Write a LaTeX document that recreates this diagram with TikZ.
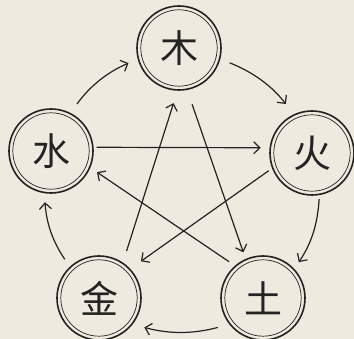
\documentclass[tikz,border=0pt]{standalone}
\usepackage{fontspec}
\newfontfamily\cjk{Noto Sans CJK SC}
\usetikzlibrary{arrows.meta,positioning,calc}
\definecolor{parchment}{RGB}{239,234,223}
\definecolor{ink}{RGB}{35,35,35}

\begin{document}
\begin{tikzpicture}[x=1pt,y=-1pt,>={Straight Barb[length=6pt,width=12pt]},
  elem/.style={circle,draw=ink,line width=1.6pt,minimum size=84pt,inner sep=0pt,
    text=ink,font=\cjk\fontsize{38}{38}\selectfont,
    path picture={\draw[ink,line width=0.7pt] (path picture bounding box.center) circle[radius=38.2pt];}},
  gen/.style={->,draw=ink,line width=1.2pt,bend left=15},
  ctrl/.style={->,draw=ink,line width=1.2pt}]
  \fill[parchment] (0,0) rectangle (354,339);
  \useasboundingbox (0,0) rectangle (354,339);

  % the five elements
  \node[elem] (wood)  at (179,48)  {木};
  \node[elem] (fire)  at (312,153) {火};
  \node[elem] (earth) at (263,298) {土};
  \node[elem] (metal) at (99,298)  {金};
  \node[elem] (water) at (51,151)  {水};

  % generating cycle
  \draw[gen,shorten <=11pt,shorten >=10pt] (water.63) to (wood.195);
  \draw[gen,shorten <=10pt,shorten >=13pt] (wood.-15) to (fire.115);
  \draw[gen,shorten <=4pt,shorten >=8pt] (fire.-80) to (earth.43);
  \draw[gen,shorten <=12pt,shorten >=12pt] (earth.218) to (metal.-38);
  \draw[gen,shorten <=9pt,shorten >=9pt] (metal.133) to (water.-99);

  % controlling star
  \draw[ctrl,shorten <=3pt,shorten >=9pt] (water.5) -- (fire.173);
  \draw[ctrl,shorten <=15pt,shorten >=7pt] (wood.-79) -- (earth.114);
  \draw[ctrl,shorten <=7pt,shorten >=8pt] (earth.131) -- (water.-23);
  \draw[ctrl,shorten <=4pt,shorten >=13pt] (fire.201) -- (metal.43);
  \draw[ctrl,shorten <=12pt,shorten >=13pt] (metal.56) -- (wood.-92);
\end{tikzpicture}
\end{document}
